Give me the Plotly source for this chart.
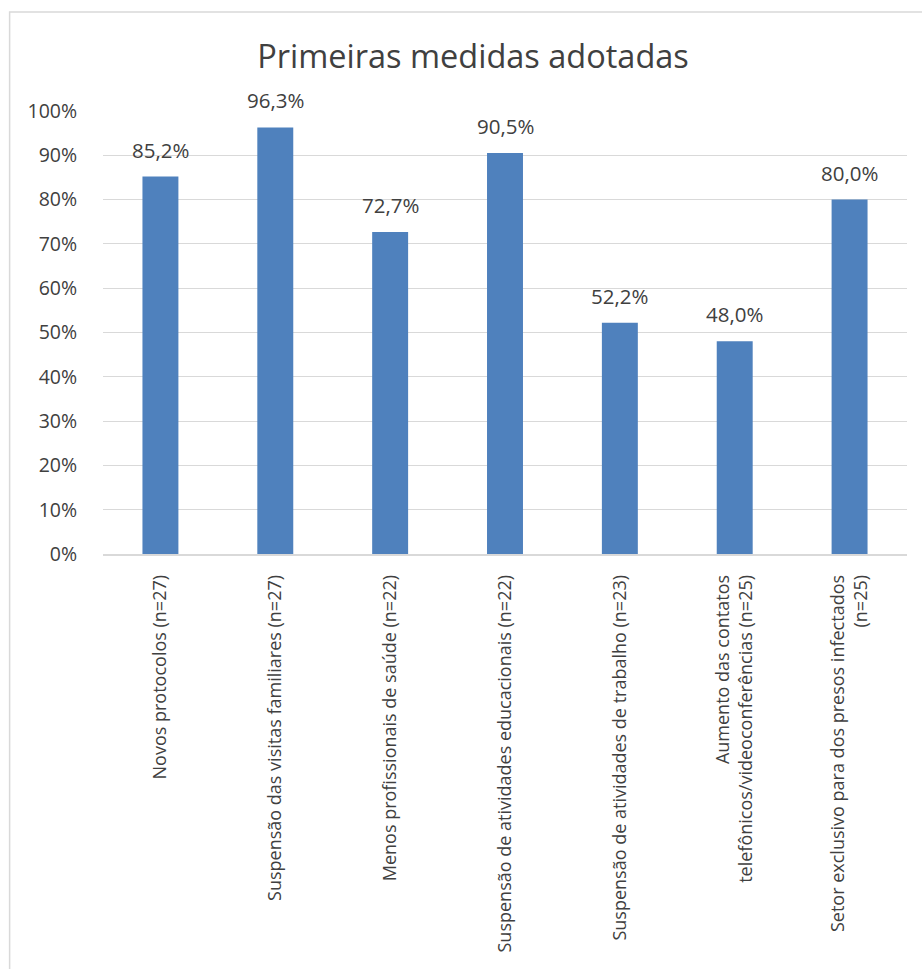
import plotly.graph_objects as go

categories = [
    "Novos protocolos (n=27)",
    "Suspensão das visitas familiares (n=27)",
    "Menos profissionais de saúde (n=22)",
    "Suspensão de atividades educacionais (n=22)",
    "Suspensão de atividades de trabalho (n=23)",
    "Aumento das contatos<br>telefônicos/videoconferências (n=25)",
    "Setor exclusivo para dos presos infectados<br>(n=25)",
]
values = [85.2, 96.3, 72.7, 90.5, 52.2, 48.0, 80.0]
y_ticks = [0, 10, 20, 30, 40, 50, 60, 70, 80, 90, 100]
y_tick_labels = [f"{v}%" for v in y_ticks]
title_text = "Primeiras medidas adotadas"

W, H = 922, 969
L, R, T, B = 102.5, 14.5, 111, 415
plot_w = W - L - R
plot_h = H - T - B

FONT = "Open Sans"
TXT = "#404040"
GRID = "#d9d9d9"

fig = go.Figure()
fig.add_trace(go.Bar(
    x=categories, y=values,
    marker=dict(color="#4F81BD", line=dict(width=0)),
    hoverinfo="skip",
))

labels = [f"{v:.1f}%".replace(".", ",") for v in values]
for c, v, t in zip(categories, values, labels):
    fig.add_annotation(x=c, y=v, text=t, showarrow=False, xref="x", yref="y",
                       yanchor="bottom", yshift=11,
                       font=dict(family=FONT, size=20.5, color=TXT))

# chart frame
fig.add_shape(type="rect", xref="paper", yref="paper",
              x0=(9 - L) / plot_w, x1=(W + 20 - L) / plot_w,
              y0=-(H + 20 - T - plot_h) / plot_h, y1=(T + plot_h - 12) / plot_h,
              line=dict(color=GRID, width=1.5), layer="below")

fig.update_layout(
    width=W, height=H,
    margin=dict(l=L, r=R, t=T, b=B, pad=0),
    paper_bgcolor="white", plot_bgcolor="white",
    bargap=0.687,
    showlegend=False,
    title=dict(text=title_text, x=473 / W, xref="container", xanchor="center",
               y=1 - 57 / H, yref="container", yanchor="middle",
               font=dict(family=FONT, size=32.5, color=TXT)),
    font=dict(family=FONT, color=TXT),
)
fig.update_yaxes(range=[0, 100], tickvals=y_ticks, ticktext=y_tick_labels,
                 showgrid=True, gridcolor=GRID, gridwidth=1,
                 zeroline=False, showline=False,
                 ticks="outside", ticklen=21, tickcolor="rgba(0,0,0,0)",
                 tickfont=dict(family=FONT, size=19.5, color=TXT), fixedrange=True)
fig.update_xaxes(tickangle=-90, showline=True, linecolor=GRID, linewidth=1.5,
                 ticks="outside", ticklen=12, tickcolor="rgba(0,0,0,0)",
                 tickfont=dict(family=FONT, size=18, color=TXT), fixedrange=True)

fig.write_html("out.html", config={"displayModeBar": False})
